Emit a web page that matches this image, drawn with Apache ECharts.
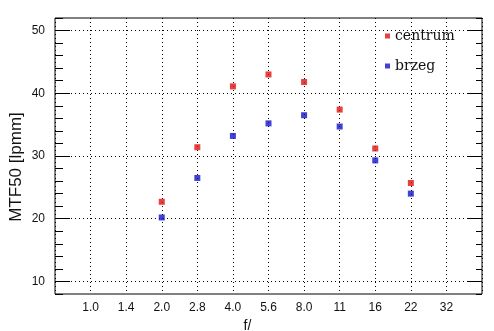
<!DOCTYPE html>
<html><head><meta charset="utf-8">
<script src="https://cdn.jsdelivr.net/npm/echarts@6/dist/echarts.min.js"></script>
<style>html,body{margin:0;padding:0;background:#fff}#c{width:494px;height:331px}</style>
</head><body><div id="c"></div>
<script>
const fTicks = ['1.0','1.4','2.0','2.8','4.0','5.6','8.0','11','16','22','32'];
const measuredStops = ['2.0','2.8','4.0','5.6','8.0','11','16','22'];
const centrum = [22.7, 31.4, 41.1, 43.0, 41.8, 37.4, 31.2, 25.7];
const brzeg = [20.2, 26.5, 33.2, 35.2, 36.5, 34.7, 29.3, 24.0];

const Y_MIN = 8, Y_MAX = 52;
const G = {left:55, right:12, top:18, bottom:37};
const pxPerUnit = (331 - G.top - G.bottom) / (Y_MAX - Y_MIN);
const G2 = {left:55, right:12, top:G.top + (Y_MAX-50)*pxPerUnit, bottom:G.bottom + (10-Y_MIN)*pxPerUnit};

const toPts = arr => arr.map((v,i) => [fTicks.indexOf(measuredStops[i]) + 1, v]);
const lab = {fontFamily:'Liberation Sans', fontSize:12, color:'#111'};

const chart = echarts.init(document.getElementById('c'), null, {renderer:'canvas'});
chart.setOption({
  backgroundColor:'#fff',
  animation:false,
  grid:[
    Object.assign({show:true, borderColor:'#000', borderWidth:1, backgroundColor:'transparent', containLabel:false, outerBoundsMode:'none'}, G),
    Object.assign({show:false, containLabel:false, outerBoundsMode:'none'}, G2)
  ],
  legend:{
    orient:'vertical', left:380, top:24, itemGap:16, itemWidth:5, itemHeight:5,
    icon:'rect', textStyle:{fontFamily:'DejaVu Serif', fontSize:14, color:'#111'},
    data:['centrum','brzeg']
  },
  xAxis:[
    {gridIndex:0, type:'value', min:0, max:12, interval:1,
     axisLine:{show:false}, axisTick:{show:false},
     axisLabel:Object.assign({margin:8, formatter:v => fTicks[v-1] || ''}, lab),
     splitLine:{show:true, lineStyle:{color:'#000', type:[1,3], width:1}},
     name:'f/', nameLocation:'middle', nameGap:21,
     nameTextStyle:{fontFamily:'Liberation Sans', fontSize:14, color:'#111', padding:[0,42,0,0]}},
    {gridIndex:1, type:'value', min:0, max:12, show:false}
  ],
  yAxis:[
    {gridIndex:0, type:'value', min:Y_MIN, max:Y_MAX, interval:2, position:'left',
     axisLine:{show:false}, axisTick:{show:true, inside:true, length:8, lineStyle:{color:'#000'}},
     axisLabel:{show:false}, splitLine:{show:false},
     name:'MTF50 [lpmm]', nameLocation:'middle', nameGap:30,
     nameTextStyle:{fontFamily:'Liberation Sans', fontSize:17, color:'#111', padding:[0,22,0,0]}},
    {gridIndex:0, type:'value', min:Y_MIN, max:Y_MAX, interval:2, position:'right',
     axisLine:{show:false}, axisTick:{show:true, inside:true, length:6, lineStyle:{color:'#000'}},
     axisLabel:{show:false}, splitLine:{show:false}},
    {gridIndex:1, type:'value', min:10, max:50, interval:10, position:'left',
     axisLine:{show:false}, axisTick:{show:true, inside:true, length:15, lineStyle:{color:'#000'}},
     axisLabel:Object.assign({margin:10}, lab),
     splitLine:{show:true, lineStyle:{color:'#000', type:[1,3], width:1}}},
    {gridIndex:1, type:'value', min:10, max:50, interval:10, position:'right',
     axisLine:{show:false}, axisTick:{show:true, inside:true, length:15, lineStyle:{color:'#000'}},
     axisLabel:{show:false}, splitLine:{show:false}}
  ],
  series:[
    {name:'centrum', type:'scatter', xAxisIndex:0, yAxisIndex:0, symbol:'rect', symbolSize:6,
     itemStyle:{color:'#e01010'}, data:toPts(centrum)},
    {name:'brzeg', type:'scatter', xAxisIndex:0, yAxisIndex:0, symbol:'rect', symbolSize:6,
     itemStyle:{color:'#1212c8'}, data:toPts(brzeg)}
  ]
});
</script></body></html>
